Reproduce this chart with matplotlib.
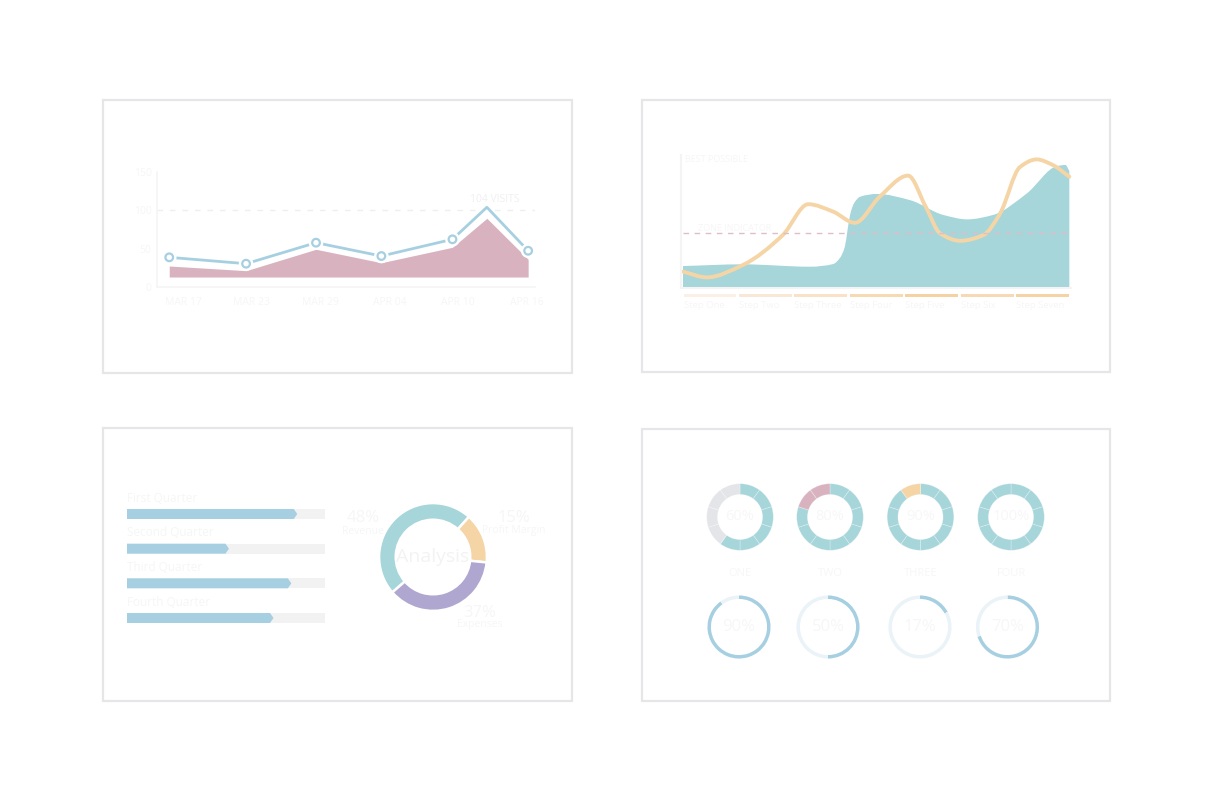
import numpy as np
import matplotlib
matplotlib.use("Agg")
import matplotlib.pyplot as plt
from matplotlib.patches import Rectangle, Polygon, PathPatch
from matplotlib.path import Path
import matplotlib.patheffects as pe

plt.rcParams['font.family'] = ['Open Sans', 'DejaVu Sans']

# ---------------- DATA ----------------
# Panel 1: visits line + area
c1_tick_labels = ['MAR 17', 'MAR 23', 'MAR 29', 'APR 04', 'APR 10', 'APR 16']
c1_tick_days = [0, 6, 12, 18, 24, 30]
c1_days = [-1.2, 5.5, 11.6, 17.3, 23.5, 26.5, 30.1]
c1_visits = [38.7, 30.4, 57.8, 40.4, 62.2, 104, 47.3]
c1_area = [27.4, 21.3, 49.2, 31.7, 51.8, 89.6, 36.1]
c1_area_base = 13
c1_yticks = [0, 50, 100, 150]
c1_ref = 100
c1_peak_label = '104 VISITS'

# Panel 2: steps area + line
c2_steps = ['Step One', 'Step Two', 'Step Three', 'Step Four', 'Step Five', 'Step Six', 'Step Seven']
c2_area_x = [0, 1.08, 2.29, 2.71, 2.83, 2.92, 2.97, 3.02, 3.09, 3.2, 3.5, 4.1, 4.69, 5.13, 5.6, 6.2, 6.75, 6.9, 6.97]
c2_area_y = [16.5, 17.8, 16, 18, 22.5, 31, 44, 56, 64, 68.7, 70.7, 66, 55, 51.6, 55, 71, 91.7, 92.5, 88]
c2_line_x = [0, 0.43, 1.08, 1.8, 2.26, 2.71, 3.1, 3.55, 4.06, 4.38, 4.64, 5.0, 5.42, 5.72, 6.08, 6.38, 6.67, 6.97]
c2_line_y = [12.3, 8, 17.3, 39.8, 63, 57.4, 49, 68.7, 84.5, 61, 41, 35.5, 39.8, 56, 91, 96.7, 92.5, 83.7]
c2_zone = 41
c2_best_label = 'BEST POSSIBLE'
c2_zone_label = 'ZONE INDICATOR'

# Panel 3: quarters + analysis donut
c3_quarters = ['First Quarter', 'Second Quarter', 'Third Quarter', 'Fourth Quarter']
c3_values = [86, 51.5, 83, 74]
c3_parts = ['Revenue', 'Profit Margin', 'Expenses']
c3_shares = [48, 15, 37]
c3_center = 'Analysis'

# Panel 4: KPI donuts
c4_names = ['ONE', 'TWO', 'THREE', 'FOUR']
c4_top = [60, 80, 90, 100]
c4_bottom = [90, 50, 17, 70]

# ---------------- STYLE ----------------
W, H = 1212, 798
BORDER = '#e6e6e8'
FAINT = '#f6f6f6'
TEAL = '#a6d5da'
BLUE = '#a6d0e1'
PINK = '#d8b3bf'
PEACH = '#f5d5a6'
PURPLE = '#b0a7d0'
GREY = '#e4e5e8'

fig = plt.figure(figsize=(W / 100, H / 100), dpi=100)
fig.patch.set_facecolor('white')


def add_ax(x0, y0, x1, y1):
    return fig.add_axes([x0 / W, 1 - y1 / H, (x1 - x0) / W, (y1 - y0) / H])


def ftext(x, y, s, **kw):
    fig.text(x / W, 1 - y / H, s, **kw)


def hermite(xs, ys):
    xs = np.asarray(xs, float)
    ys = np.asarray(ys, float)
    d = np.diff(ys) / np.diff(xs)
    m = np.zeros_like(xs)
    m[0], m[-1] = d[0], d[-1]
    for i in range(1, len(xs) - 1):
        if d[i - 1] * d[i] > 0:
            h0, h1 = xs[i] - xs[i - 1], xs[i + 1] - xs[i]
            w1, w2 = 2 * h1 + h0, h1 + 2 * h0
            m[i] = (w1 + w2) / (w1 / d[i - 1] + w2 / d[i])
    verts = [(xs[0], ys[0])]
    codes = [Path.MOVETO]
    for i in range(len(xs) - 1):
        h = xs[i + 1] - xs[i]
        verts += [(xs[i] + h / 3, ys[i] + m[i] * h / 3),
                  (xs[i + 1] - h / 3, ys[i + 1] - m[i + 1] * h / 3),
                  (xs[i + 1], ys[i + 1])]
        codes += [Path.CURVE4] * 3
    return verts, codes


# panel frames
for (x0, y0, x1, y1) in [(103, 100, 572, 373), (642, 100, 1110, 372),
                         (103, 428, 572, 701), (642, 429, 1110, 701)]:
    fig.add_artist(Rectangle((x0 / W, 1 - y1 / H), (x1 - x0) / W, (y1 - y0) / H,
                             transform=fig.transFigure, fill=False, ec=BORDER, lw=1.6))

# ---------------- PANEL 1 ----------------
px_per_day = (527 - 183) / 30
ax1 = add_ax(157, 172, 535, 287)
ax1.set_xlim(-(183 - 157) / px_per_day, 30 + (535 - 527) / px_per_day)
ax1.set_ylim(0, 150)
ax1.fill_between(c1_days, c1_area_base, c1_area, color=PINK, lw=0)
ax1.axhline(c1_ref, color='#efefef', lw=1, dashes=(4, 5))
marks = [i for i, v in enumerate(c1_visits) if v != max(c1_visits)]
ax1.plot(c1_days, c1_visits, color=BLUE, lw=2, marker='o', markevery=marks,
         ms=5.5, mfc='white', mec=BLUE, mew=1.6, clip_on=False,
         path_effects=[pe.Stroke(linewidth=5, foreground='white'), pe.Normal()])
ipk = int(np.argmax(c1_visits))
ax1.text(c1_days[ipk] + 0.7, c1_visits[ipk] + 10, c1_peak_label, ha='center', va='center',
         fontsize=7.5, color='#f0f0f0')
ax1.set_xticks(c1_tick_days)
ax1.set_xticklabels(c1_tick_labels)
ax1.set_yticks(c1_yticks)
ax1.tick_params(length=0, labelsize=7.5, labelcolor=FAINT)
ax1.tick_params(axis='x', pad=7)
ax1.tick_params(axis='y', pad=4)
for s in ['top', 'right']:
    ax1.spines[s].set_visible(False)
for s in ['left', 'bottom']:
    ax1.spines[s].set_color('#f5f5f5')
    ax1.spines[s].set_linewidth(1.2)
ax1.patch.set_alpha(0)

# ---------------- PANEL 2 ----------------
step_px = (1071 - 683) / 7
val_px = (288 - 155) / 100
ax2 = add_ax(681, 155, 1071, 288)
ax2.set_xlim(-(683 - 681) / step_px, 7)
ax2.set_ylim(0, 100)
v, c = hermite(c2_area_x, c2_area_y)
v += [(c2_area_x[-1], 0), (c2_area_x[0], 0), (c2_area_x[0], 0)]
c += [Path.LINETO, Path.LINETO, Path.CLOSEPOLY]
ax2.add_patch(PathPatch(Path(v, c), fc=TEAL, ec='none', lw=0))
ax2.axhline(c2_zone, xmin=(683 - 681) / (1071 - 681), color='#dfbec7', lw=1, dashes=(4, 4))
v, c = hermite(c2_line_x, c2_line_y)
ax2.add_patch(PathPatch(Path(v, c), fc='none', ec=PEACH, lw=2.8, clip_on=False,
                        capstyle='round'))
ax2.text(0.03, 100 - 4 / val_px, c2_best_label, fontsize=6.5, color=FAINT, va='center', ha='left')
ax2.text(0.27, c2_zone + 5 / val_px, c2_zone_label, fontsize=6.5, color=FAINT, va='center', ha='left')
step_cols = ['#fbf0e6', '#fae8d6', '#f9e2c8', '#f7d9b2', '#f6d2a3', '#f7dab5', '#f5d3a5']
for i, (name, col) in enumerate(zip(c2_steps, step_cols)):
    ax2.add_patch(Rectangle((i + 0.01, -(297 - 288) / val_px), 0.955, 3 / val_px,
                            fc=col, ec='none', clip_on=False))
    ax2.text(i + 0.01, -(305 - 288) / val_px, name, fontsize=6.8, color=FAINT,
             va='center', ha='left', clip_on=False)
ax2.set_xticks([])
ax2.set_yticks([])
for s in ['top', 'right']:
    ax2.spines[s].set_visible(False)
for s in ['left', 'bottom']:
    ax2.spines[s].set_color('#f4f4f4')
    ax2.spines[s].set_linewidth(1.5)
ax2.patch.set_alpha(0)

# ---------------- PANEL 3 ----------------
row_px = (618 - 514) / 3
ax3 = add_ax(127, 514 - 0.8 * row_px, 325, 514 + 3.6 * row_px)
ax3.set_xlim(0, 100)
ax3.set_ylim(3.6, -0.8)
bh = 10 / row_px
tip = 3.5 / ((325 - 127) / 100)
for i, (name, val) in enumerate(zip(c3_quarters, c3_values)):
    ax3.add_patch(Rectangle((0, i - bh / 2), 100, bh, fc='#f2f2f2', ec='none'))
    ax3.add_patch(Polygon([(0, i - bh / 2), (val - tip, i - bh / 2), (val, i),
                           (val - tip, i + bh / 2), (0, i + bh / 2)],
                          closed=True, fc=BLUE, ec='none'))
    ax3.text(0, i - 16 / row_px, name, fontsize=8.5, color=FAINT, ha='left', va='center')
ax3.axis('off')

cx, cy, r = 433, 557, 55
axd = add_ax(cx - r, cy - r, cx + r, cy + r)
axd.pie(c3_shares, colors=[TEAL, PEACH, PURPLE], startangle=221, counterclock=False,
        radius=1, wedgeprops=dict(width=17 / 55, edgecolor='white', linewidth=1.8))
axd.set_xlim(-1.02, 1.02)
axd.set_ylim(-1.02, 1.02)
axd.set_aspect('equal')
axd.axis('off')
ftext(cx, cy, c3_center, fontsize=14, color='#f3f3f3', ha='center', va='center')
lab_pos = [(363, 518, 531), (514, 518, 531), (480, 613, 625)]
for (x, y1, y2), name, share in zip(lab_pos, c3_parts, c3_shares):
    ftext(x, y1, f'{share}%', fontsize=12, color=FAINT, ha='center', va='center')
    ftext(x, y2, name, fontsize=7.5, color=FAINT, ha='center', va='center')

# ---------------- PANEL 4 ----------------
top_cx = [740, 830, 920.5, 1011]
top_cy = 517
top_r = 34
rest_cols = [GREY, PINK, PEACH, GREY]
for x, val, name, rc in zip(top_cx, c4_top, c4_names, rest_cols):
    a = add_ax(x - top_r, top_cy - top_r, x + top_r, top_cy + top_r)
    cols = [TEAL if (k + 0.5) * 10 < val else rc for k in range(10)]
    a.pie([10] * 10, colors=cols, startangle=90, counterclock=False, radius=1,
          wedgeprops=dict(width=11 / 34, edgecolor=(1, 1, 1, 0.3), linewidth=0.6))
    a.set_xlim(-1.02, 1.02)
    a.set_ylim(-1.02, 1.02)
    a.set_aspect('equal')
    a.axis('off')
    ftext(x, top_cy, f'{val}%', fontsize=10.5, color='#f7f7f7', ha='center', va='center')
    ftext(x, 573, name, fontsize=8, color='#f7f7f7', ha='center', va='center')

bot_cx = [739, 828, 920, 1007.5]
bot_cy = 627
bot_r = 31.5
for x, val in zip(bot_cx, c4_bottom):
    a = add_ax(x - bot_r - 1, bot_cy - bot_r - 1, x + bot_r + 1, bot_cy + bot_r + 1)
    a.pie([val, 100 - val], colors=[BLUE, '#eaf3f8'], startangle=90, counterclock=False,
          radius=1, wedgeprops=dict(width=3.5 / 31.5, edgecolor='none', linewidth=0))
    a.set_xlim(-1.03, 1.03)
    a.set_ylim(-1.03, 1.03)
    a.set_aspect('equal')
    a.axis('off')
    ftext(x, bot_cy, f'{val}%', fontsize=12, color='#f7f7f7', ha='center', va='center')

fig.savefig('out.png', dpi=100, facecolor='white')
